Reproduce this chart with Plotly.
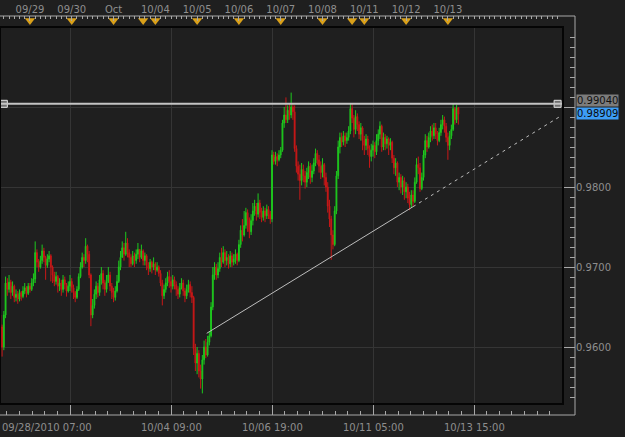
import plotly.graph_objects as go

# ---------------- data (hourly bars, NY time, starting 09/28/2010 07:00) ----------------
first_open_pip = 9640
close_pips = [
    9625, 9600, 9640, 9680, 9672, 9681, 9668, 9676, 9662, 9666,
    9660, 9668, 9663, 9670, 9674, 9667, 9676, 9672, 9680, 9685,
    9718, 9706, 9700, 9708, 9720, 9712, 9702, 9710, 9714, 9700,
    9690, 9682, 9688, 9676, 9680, 9672, 9684, 9678, 9670, 9676,
    9682, 9674, 9668, 9662, 9672, 9688, 9700, 9712, 9708, 9726,
    9716, 9690, 9640, 9652, 9666, 9676, 9668, 9684, 9692, 9680,
    9672, 9682, 9690, 9676, 9668, 9662, 9670, 9682, 9700, 9712,
    9724, 9716, 9730, 9718, 9712, 9704, 9714, 9708, 9716, 9722,
    9712, 9720, 9708, 9714, 9702, 9698, 9706, 9700, 9704, 9696,
    9700, 9692, 9680, 9664, 9672, 9680, 9688, 9682, 9676, 9684,
    9678, 9672, 9666, 9674, 9680, 9670, 9664, 9672, 9678, 9668,
    9662, 9598, 9580, 9592, 9570, 9560, 9584, 9600, 9590, 9606,
    9614, 9650, 9690, 9700, 9690, 9698, 9712, 9706, 9718, 9708,
    9712, 9704, 9714, 9706, 9710, 9716, 9708, 9728, 9746, 9740,
    9752, 9768, 9760, 9744, 9758, 9770, 9776, 9766, 9780, 9768,
    9762, 9770, 9764, 9772, 9766, 9760, 9840, 9832, 9838, 9834,
    9840, 9846, 9880, 9890, 9884, 9896, 9890, 9900, 9894, 9848,
    9826, 9816, 9808, 9822, 9814, 9806, 9818, 9826, 9812, 9820,
    9830, 9842, 9834, 9826, 9818, 9828, 9812, 9800, 9776, 9760,
    9740, 9728, 9770, 9814, 9850, 9862, 9856, 9864, 9858, 9862,
    9870, 9898, 9886, 9872, 9888, 9878, 9866, 9874, 9858, 9852,
    9860, 9848, 9838, 9846, 9852, 9844, 9858, 9866, 9876, 9850,
    9862, 9854, 9860, 9852, 9856, 9836, 9824, 9830, 9806, 9812,
    9800, 9808, 9794, 9800, 9786, 9778, 9790, 9782, 9806, 9828,
    9824, 9798, 9812, 9840, 9858, 9850, 9862, 9870, 9864, 9874,
    9866, 9858, 9868, 9878, 9884, 9876, 9862, 9852, 9864, 9872,
    9898, 9884, 9899, 9891,
]
high_pips = [
    9648, 9628, 9645, 9688, 9686, 9690, 9684, 9682, 9678, 9672,
    9670, 9672, 9670, 9676, 9680, 9676, 9680, 9680, 9686, 9692,
    9732, 9722, 9710, 9714, 9728, 9724, 9714, 9716, 9720, 9716,
    9702, 9694, 9694, 9690, 9686, 9684, 9690, 9688, 9680, 9682,
    9690, 9686, 9678, 9670, 9676, 9692, 9706, 9718, 9716, 9736,
    9728, 9720, 9692, 9660, 9672, 9682, 9680, 9690, 9700, 9696,
    9684, 9690, 9700, 9694, 9680, 9674, 9676, 9690, 9708, 9720,
    9732, 9730, 9744, 9736, 9722, 9716, 9720, 9718, 9722, 9730,
    9722, 9728, 9722, 9718, 9716, 9706, 9710, 9708, 9712, 9706,
    9706, 9702, 9696, 9684, 9678, 9686, 9694, 9696, 9688, 9690,
    9688, 9682, 9676, 9680, 9686, 9684, 9674, 9678, 9684, 9682,
    9676, 9664, 9604, 9600, 9596, 9578, 9590, 9608, 9610, 9614,
    9620, 9656, 9700, 9706, 9704, 9706, 9718, 9724, 9726, 9722,
    9720, 9716, 9720, 9718, 9716, 9722, 9718, 9734, 9752, 9760,
    9770, 9774, 9772, 9762, 9766, 9780, 9784, 9780, 9792, 9784,
    9774, 9776, 9774, 9778, 9776, 9770, 9846, 9844, 9844, 9842,
    9846, 9850, 9884, 9900, 9912, 9902, 9904, 9918, 9904, 9902,
    9852, 9832, 9828, 9830, 9828, 9820, 9824, 9832, 9830, 9828,
    9836, 9848, 9846, 9840, 9832, 9836, 9830, 9818, 9806, 9784,
    9764, 9746, 9776, 9820, 9858, 9868, 9868, 9870, 9868, 9868,
    9876, 9905, 9904, 9890, 9896, 9892, 9882, 9880, 9876, 9864,
    9866, 9864, 9852, 9854, 9858, 9856, 9866, 9872, 9882, 9878,
    9868, 9866, 9864, 9862, 9861, 9858, 9840, 9836, 9832, 9818,
    9816, 9814, 9812, 9806, 9804, 9794, 9796, 9796, 9812, 9836,
    9838, 9830, 9818, 9846, 9866, 9864, 9868, 9876, 9878, 9880,
    9880, 9870, 9874, 9884, 9890, 9888, 9880, 9868, 9870, 9878,
    9904, 9900, 9903, 9900,
]
low_pips = [
    9615, 9588, 9596, 9636, 9664, 9668, 9660, 9664, 9656, 9657,
    9654, 9657, 9658, 9661, 9666, 9662, 9665, 9668, 9670, 9676,
    9680, 9700, 9694, 9698, 9704, 9706, 9684, 9699, 9706, 9682,
    9680, 9676, 9678, 9668, 9670, 9664, 9668, 9672, 9663, 9668,
    9670, 9668, 9660, 9656, 9660, 9670, 9686, 9698, 9700, 9704,
    9706, 9686, 9626, 9636, 9648, 9660, 9662, 9664, 9678, 9672,
    9664, 9668, 9680, 9670, 9660, 9656, 9658, 9668, 9680, 9696,
    9712, 9708, 9714, 9712, 9700, 9700, 9702, 9700, 9704, 9710,
    9706, 9710, 9702, 9702, 9696, 9690, 9694, 9692, 9696, 9690,
    9694, 9688, 9676, 9652, 9660, 9668, 9676, 9674, 9668, 9672,
    9672, 9664, 9660, 9662, 9672, 9664, 9656, 9660, 9668, 9662,
    9655, 9590, 9570, 9566, 9562, 9548, 9542, 9578, 9586, 9588,
    9602, 9612, 9646, 9684, 9684, 9686, 9694, 9700, 9704, 9700,
    9702, 9698, 9700, 9700, 9702, 9704, 9702, 9706, 9724, 9732,
    9738, 9748, 9744, 9736, 9740, 9752, 9764, 9758, 9762, 9760,
    9756, 9758, 9756, 9760, 9760, 9754, 9756, 9828, 9828, 9826,
    9832, 9836, 9844, 9874, 9880, 9880, 9884, 9886, 9884, 9844,
    9818, 9808, 9784, 9802, 9806, 9798, 9800, 9810, 9804, 9806,
    9816, 9826, 9828, 9818, 9810, 9812, 9802, 9794, 9768, 9750,
    9709, 9722, 9726, 9766, 9810, 9842, 9850, 9852, 9850, 9854,
    9858, 9866, 9880, 9862, 9866, 9870, 9860, 9858, 9846, 9840,
    9846, 9840, 9824, 9832, 9838, 9836, 9840, 9852, 9860, 9844,
    9846, 9846, 9848, 9840, 9846, 9830, 9816, 9814, 9800, 9796,
    9792, 9790, 9784, 9786, 9780, 9771, 9774, 9776, 9780, 9804,
    9816, 9794, 9796, 9808, 9836, 9844, 9848, 9856, 9858, 9860,
    9860, 9852, 9856, 9864, 9872, 9868, 9856, 9834, 9846, 9860,
    9870, 9878, 9880, 9878,
]
assert len(close_pips) == len(high_pips) == len(low_pips) == 264

bar_index = list(range(len(close_pips)))
closes = [p / 10000 for p in close_pips]
highs = [p / 10000 for p in high_pips]
lows = [p / 10000 for p in low_pips]
opens = [first_open_pip / 10000] + closes[:-1]

# day markers on the top strip (bar index of each session/day start)
day_marker_bars = [17, 41, 65, 82, 89, 113, 137, 161, 185, 202, 209, 233, 257]
day_label_bars = [17, 41, 65, 89, 113, 137, 161, 185, 209, 233, 257]
day_labels = ["09/29", "09/30", "Oct", "10/04", "10/05", "10/06", "10/07",
              "10/08", "10/11", "10/12", "10/13"]

# bottom time axis
time_tick_bars = [40, 98, 156, 214, 272]
time_tick_labels = ["", "10/04 09:00", "10/06 19:00", "10/11 05:00", "10/13 15:00"]
first_time_label = "09/28/2010 07:00"

# price axis (0.9900 label sits under the price boxes)
price_ticks = [0.96, 0.97, 0.98, 0.99]
price_tick_labels = ["0.9600", "0.9700", "0.9800", ""]
resistance_price = 0.99040
last_price = 0.98909
handle_bars = [2, 320]

# support trend line (solid part, then dashed projection)
trend_bars = [118.5, 237.0, 322.4]
trend_prices = [0.96171, 0.97754, 0.98895]

# ---------------- styling ----------------
BG = "#1f1f1f"
GRID = "#353535"
AXIS = "#a8a8a8"
TXT = "#8e8e8e"
GREEN = "#1ec81e"
RED = "#c81818"
FONT = "DejaVu Sans"

W, H = 625, 437
ML, MR, MT, MB = 0, 50, 16, 22
PW = W - ML - MR            # 575
PH = H - MT - MB            # 399
frame_right = 563
frame_top, frame_bottom = 27, 404
x_dom = [0, (frame_right - ML) / PW]
y_dom = [(H - MB - frame_bottom) / PH, (H - MB - frame_top) / PH]

fig = go.Figure()

fig.add_trace(go.Candlestick(
    x=bar_index, open=opens, high=highs, low=lows, close=closes,
    increasing=dict(line=dict(color=GREEN, width=1), fillcolor=GREEN),
    decreasing=dict(line=dict(color=RED, width=1), fillcolor=RED),
    whiskerwidth=0, showlegend=False, hoverinfo="skip",
))

fig.add_trace(go.Scatter(
    x=trend_bars[:2], y=trend_prices[:2], mode="lines",
    line=dict(color="#bdbdbd", width=1), showlegend=False, hoverinfo="skip"))
fig.add_trace(go.Scatter(
    x=trend_bars[1:], y=trend_prices[1:], mode="lines",
    line=dict(color="#bdbdbd", width=1, dash="3px,4px"), showlegend=False, hoverinfo="skip"))

fig.add_shape(type="line", xref="x domain", yref="y", x0=0, x1=1,
              y0=resistance_price, y1=resistance_price,
              line=dict(color="#c4c4c4", width=2), layer="above")

fig.add_trace(go.Scatter(
    x=handle_bars, y=[resistance_price] * len(handle_bars), mode="markers",
    marker=dict(symbol="square", size=7, color="#6e6e6e", line=dict(color="#e6e6e6", width=1)),
    showlegend=False, hoverinfo="skip", cliponaxis=False))

# orange day markers in the top strip
fig.add_trace(go.Scatter(
    x=day_marker_bars, y=[0.6] * len(day_marker_bars), xaxis="x2", yaxis="y3",
    mode="markers", marker=dict(symbol="triangle-down", size=9, color="#d9a01a"),
    showlegend=False, hoverinfo="skip", cliponaxis=False))

xr = [-0.2, 323.1]
tickfont = dict(family=FONT, size=10, color=TXT)

fig.update_layout(
    template="none",
    width=W, height=H,
    margin=dict(l=ML, r=MR, t=MT, b=MB, pad=0),
    paper_bgcolor=BG, plot_bgcolor=BG,
    font=dict(family=FONT, size=10, color=TXT),
    showlegend=False,
    hovermode=False,
    xaxis=dict(
        domain=x_dom, range=xr, anchor="free", position=0,
        showline=False, zeroline=False, automargin=False,
        rangeslider=dict(visible=False),
        tickmode="array", tickvals=time_tick_bars, showticklabels=False,
        ticks="inside", ticklen=10, tickwidth=1, tickcolor=AXIS,
        showgrid=True, gridcolor=GRID, gridwidth=1,
        minor=dict(ticks="inside", ticklen=4, tickcolor=AXIS, tick0=40, dtick=7.25, showgrid=False),
    ),
    yaxis=dict(
        domain=y_dom, range=[0.952875, 1.0], side="right", anchor="free", position=1,
        showline=False, zeroline=False, automargin=False,
        tickmode="array", tickvals=price_ticks, ticktext=price_tick_labels,
        ticks="inside", ticklen=12, tickwidth=1, tickcolor=AXIS,
        showgrid=True, gridcolor=GRID, gridwidth=1,
        minor=dict(ticks="inside", ticklen=5, tickcolor=AXIS, tick0=0.95, dtick=0.00125, showgrid=False),
        tickfont=tickfont,
    ),
    xaxis2=dict(
        domain=x_dom, range=xr, anchor="y3", side="top",
        showline=False, zeroline=False, showgrid=False, automargin=False,
        tickmode="array", tickvals=day_label_bars, ticktext=day_labels,
        ticks="inside", ticklen=5, tickwidth=1, tickcolor=AXIS,
        minor=dict(ticks="inside", ticklen=3, tickcolor=AXIS, tick0=17, dtick=3, showgrid=False),
        tickfont=tickfont,
    ),
    yaxis3=dict(domain=[y_dom[1], 1], range=[0, 1], anchor="x2", visible=False, fixedrange=True),
)

# axis lines / frame
fig.add_shape(type="line", xref="paper", yref="paper", x0=0, x1=1, y0=1, y1=1,
              line=dict(color=AXIS, width=1))
fig.add_shape(type="line", xref="paper", yref="paper", x0=0, x1=1, y0=0, y1=0,
              line=dict(color=AXIS, width=1))
fig.add_shape(type="line", xref="paper", yref="paper", x0=1, x1=1, y0=0, y1=1,
              line=dict(color=AXIS, width=1))
fig.add_shape(type="rect", xref="x domain", yref="y domain", x0=0, x1=1, y0=0, y1=1,
              line=dict(color="#050505", width=2), fillcolor="rgba(0,0,0,0)", layer="above")

# bottom time labels
label_font = dict(family=FONT, size=10, color=TXT)
fig.add_annotation(x=0, y=0, xref="paper", yref="paper", xanchor="left", yanchor="top",
                   yshift=-5, text=first_time_label, showarrow=False, font=label_font)
for bx, lab in zip(time_tick_bars, time_tick_labels):
    if lab:
        fig.add_annotation(x=bx, y=0, xref="x", yref="paper", xanchor="center", yanchor="top",
                           yshift=-5, text=lab, showarrow=False, font=label_font)

# price boxes
fig.add_annotation(x=1, y=resistance_price, xref="paper", yref="y", xanchor="left",
                   xshift=1, yshift=3, text=f"{resistance_price:.5f}", showarrow=False,
                   bgcolor="#7c7c7c", borderpad=0, height=11,
                   font=dict(family=FONT, size=10, color="#101010"))
fig.add_annotation(x=1, y=last_price, xref="paper", yref="y", xanchor="left",
                   xshift=1, yshift=0.5, text=f"{last_price:.5f}", showarrow=False,
                   bgcolor="#3d9df5", borderpad=0, height=11,
                   font=dict(family=FONT, size=10, color="#0a0a0a"))

fig.write_html("out.html", config={"displayModeBar": False})
